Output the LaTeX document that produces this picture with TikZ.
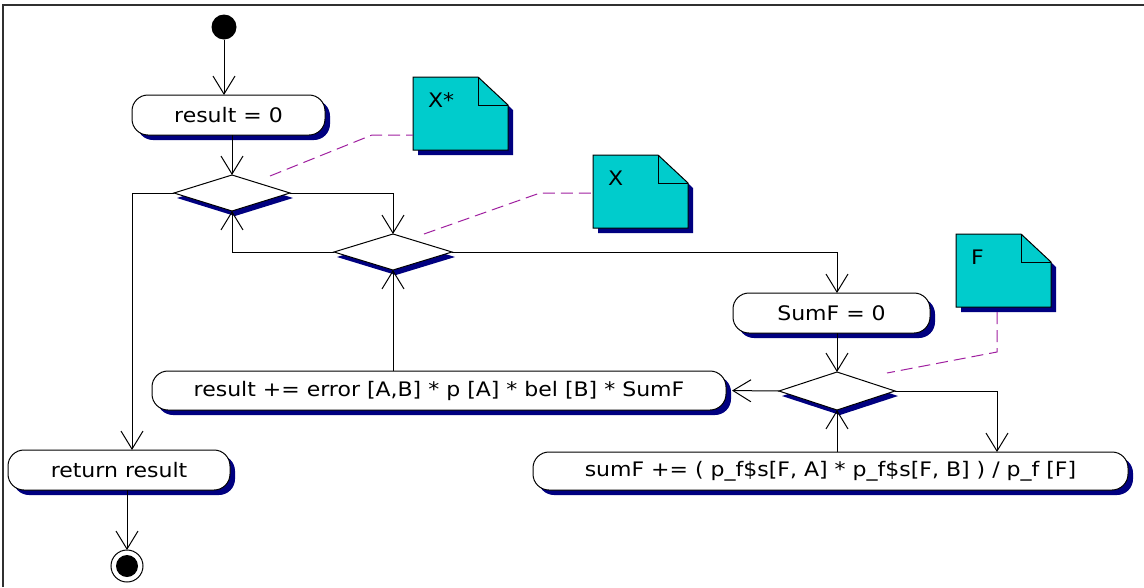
\documentclass[tikz,border=0pt]{standalone}
\usepackage{fontspec}
\setmainfont{DejaVu Sans}[FakeStretch=1.1]
\usetikzlibrary{arrows.meta,shapes.geometric,shadows,calc}
\definecolor{navyshadow}{RGB}{0,0,128}
\definecolor{notecyan}{RGB}{0,204,204}
\definecolor{notelinkcol}{RGB}{160,32,160}
\definecolor{framegray}{RGB}{48,48,48}

% UML note sheet with folded corner: name, centre, label
\newcommand\notesheet[3]{%
  \node[notebox] (#1) at (#2) {};
  \fill[navyshadow] ([shift={(5pt,-5pt)}]#1.south west) -- ([shift={(5pt,-5pt)}]#1.north west)
     -- ([shift={(-25pt,-5pt)}]#1.north east) -- ([shift={(5pt,-33pt)}]#1.north east)
     -- ([shift={(5pt,-5pt)}]#1.south east) -- cycle;
  \filldraw[fill=notecyan, draw=black, line width=1pt] (#1.south west) -- (#1.north west)
     -- ([xshift=-30pt]#1.north east) -- ([yshift=-28pt]#1.north east) -- (#1.south east) -- cycle;
  \draw[line width=1pt] ([xshift=-30pt]#1.north east) |- ([yshift=-28pt]#1.north east);
  \node[anchor=west] (#1-text) at ([xshift=15pt,yshift=-23pt]#1.north west) {#3};
}

\begin{document}
\begin{tikzpicture}[x=1pt,y=-1pt,
  font=\fontsize{20}{23}\selectfont,
  every node/.style={inner sep=0pt, outer sep=0pt},
  shadowed/.style={drop shadow={shadow xshift=5pt, shadow yshift=-5pt, fill=navyshadow, opacity=1}},
  action/.style={rectangle, draw=black, fill=white, line width=1pt, rounded corners=16pt,
    minimum height=40pt, shadowed},
  decision/.style={diamond, draw=black, fill=white, line width=1pt,
    minimum width=116pt, minimum height=36pt,
    drop shadow={shadow xshift=3pt, shadow yshift=-5pt, fill=navyshadow, opacity=1}},
  notebox/.style={rectangle, minimum width=95pt, minimum height=73pt},
  flow/.style={draw=black, line width=1pt, -{Straight Barb[length=18pt,width=22pt,line width=1pt]}},
  notelink/.style={draw=notelinkcol, line width=1pt, dash pattern=on 12pt off 6pt},
]
\useasboundingbox (0,0) rectangle (1144,587);
\fill[white] (0,0) rectangle (1144,587);
\draw[framegray, line width=2pt] (3,587) -- (3,5) -- (1144,5);

% start and end
\node[circle, fill=black, minimum size=25pt] (start) at (224,27) {};
\node[circle, draw=black, line width=1pt, fill=white, minimum size=32pt] (stop) at (127,566) {};
\node[circle, fill=black, minimum size=22pt] (stopdot) at (stop) {};

% actions
\node[action, minimum width=193pt] (r0) at (228.5,115) {result = 0};
\node[action, minimum width=197pt] (sf0) at (831.5,313) {SumF = 0};
\node[action, minimum width=574pt, minimum height=39pt] (res) at (439,390.5)
  {result += error [A,B] * p [A] * bel [B] * SumF};
\node[action, minimum width=222pt] (ret) at (119,470) {return result};
\node[action, minimum width=595pt, minimum height=38pt] (sum) at (830.5,471)
  {sumF += ( p\_f\$s[F, A] * p\_f\$s[F, B] ) / p\_f [F]};

% decisions
\node[decision] (d1) at (232,193) {};
\node[decision, minimum width=118pt] (d2) at (393,252) {};
\node[decision, minimum height=38pt] (d3) at (837,391) {};

% notes
\notesheet{xs}{460.5,113.5}{X*}
\notesheet{xn}{640.5,191.5}{X}
\notesheet{fn}{1003.5,270.5}{F}

% routing points
\coordinate (leftdrop) at (132,0);
\coordinate (rightdrop) at (997,0);
\coordinate (d1tag) at (270,176);
\coordinate (xsbend) at (372,135);
\coordinate (d2tag) at (424,234);
\coordinate (xbend) at (540,193);
\coordinate (d3tag) at (887,373);
\coordinate (fbend) at (997,352);

% control flow
\draw[flow] (start) -- (start |- r0.north);
\draw[flow] (r0.south -| d1.north) -- (d1.north);
\draw[flow] (d1.east) -| (d2.north);
\draw[flow] (d2.west) -| (d1.south);
\draw[flow] (d1.west) -| (leftdrop |- ret.north);
\draw[flow] (stop |- ret.south) -- (stop.north);
\draw[flow] (d2.east) -| (d3.north |- sf0.north);
\draw[flow] (sf0.south -| d3.north) -- (d3.north);
\draw[flow, shorten >=6pt] (d3.west) -- (res.east);
\draw[flow] (res.north -| d2.south) -- (d2.south);
\draw[flow] (d3.east) -| (rightdrop |- sum.north);
\draw[flow] (sum.north -| d3.south) -- (d3.south);

% note attachments
\draw[notelink] (d1tag) -- (xsbend) -- (xsbend -| xs.west);
\draw[notelink] (d2tag) -- (xbend) -- (xbend -| xn.west);
\draw[notelink] ([yshift=-5pt]fn.south -| fbend) -- (fbend) -- (d3tag);
\end{tikzpicture}
\end{document}
